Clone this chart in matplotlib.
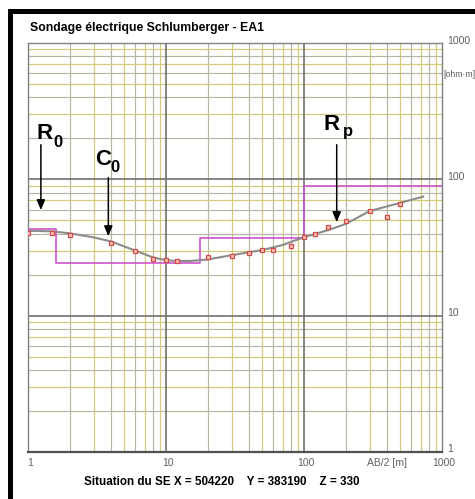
import matplotlib
matplotlib.use("Agg")
import matplotlib.pyplot as plt
from matplotlib.patches import Rectangle
from matplotlib import transforms

plt.rcParams["font.family"] = ["Liberation Sans", "DejaVu Sans"]

# Measured apparent resistivity (AB/2 [m], rho_a [ohm.m])
ab2 = [1, 1.5, 2, 4, 6, 8, 10, 12, 20, 30, 40, 50, 60, 80, 100, 120, 150, 200, 300, 400, 500]
rho_a = [40.2, 40.6, 39.1, 34.3, 30.0, 26.0, 25.7, 25.2, 27.1, 27.3, 29.0, 30.2, 30.3,
         32.6, 37.6, 40.0, 44.5, 49.3, 58.3, 53.2, 66.0]

# Computed response of the model (grey curve)
curve_x = [1, 1.5, 2, 3, 4, 6, 8, 10, 12, 15, 20, 30, 50, 70, 100, 150, 200, 300, 500, 730]
curve_y = [42, 41.5, 40.2, 37.5, 35, 30, 26.8, 25.5, 25.2, 25.2, 25.8, 27.8, 30.3, 33,
           37.6, 42.5, 47, 58.6, 67.3, 74.7]

# Layered model (magenta steps)
layer_x = [1, 1.6, 17.6, 100, 1000]
layer_rho = [43, 24.2, 37, 90, 90]

title = "Sondage électrique Schlumberger - EA1"
footer = "Situation du SE X = 504220    Y = 383190    Z = 330"
decades = [1, 10, 100, 1000]
dec_labels = ["1", "10", "100", "1000"]

fig = plt.figure(figsize=(4.75, 4.99), dpi=100)
ax = fig.add_axes([28 / 475, 47 / 499, 414 / 475, 409 / 499])
ax.set_xscale("log")
ax.set_yscale("log")
ax.set_xlim(1, 1000)
ax.set_ylim(1, 1000)

# grid: decades dark grey, minor lines alternating grey / olive yellow
for d in decades[:-1]:
    for m in range(2, 10):
        col = "#b8b4a4" if m % 2 == 0 else "#d2ca78"
        ax.axvline(d * m, color=col, lw=0.85, zorder=1)
        ax.axhline(d * m, color=col, lw=0.85, zorder=1)
for d in decades[1:-1]:
    ax.axvline(d, color="#707070", lw=1.2, zorder=1.5)
    ax.axhline(d, color="#707070", lw=1.2, zorder=1.5)

for s in ax.spines.values():
    s.set_color("#808080")
    s.set_linewidth(1.0)
ax.spines["bottom"].set_color("#505050")
ax.spines["bottom"].set_linewidth(1.6)

ax.set_xticks([])
ax.set_yticks([])
ax.minorticks_off()

ax.step(layer_x, layer_rho, where="post", color="#cc55cc", lw=1.2, zorder=3)
ax.plot(curve_x, curve_y, color="#8c8c8c", lw=1.5, zorder=4)
ax.plot(ab2, rho_a, ls="none", marker="s", ms=3.4, mew=0.9,
        mfc="#f5c8b8", mec="#d84848", zorder=5)

# annotations
arr = dict(arrowstyle="-|>,head_width=0.25,head_length=0.6", color="black", lw=1.1)
ax.annotate("", xy=(1.24, 56.7), xytext=(1.24, 188), arrowprops=arr, zorder=6)
ax.annotate("", xy=(3.82, 36.5), xytext=(3.82, 108), arrowprops=arr, zorder=6)
ax.annotate("", xy=(172.6, 46.3), xytext=(172.6, 188), arrowprops=arr, zorder=6)
big = dict(fontsize=16, va="baseline", ha="left", fontweight="bold")
sub = dict(fontsize=12, va="baseline", ha="left", fontweight="bold")
ax.text(1.16, 198, "R", **big)
ax.text(1.53, 173, "0", **sub)
ax.text(3.06, 127.6, "C", **big)
ax.text(3.98, 113.3, "0", **sub)
ax.text(139.6, 230, "R", **big)
ax.text(190, 208, "p", **sub)

# tick labels drawn as text
lab = dict(fontsize=7.5, color="#606060")
up = transforms.ScaledTranslation(0, 2.5 / 100, fig.dpi_scale_trans)
ytr = transforms.blended_transform_factory(ax.transAxes, ax.transData) + up
for v, t in zip(decades, dec_labels):
    ax.text(1.012, v, t, transform=ytr, ha="left", va="center", clip_on=False, **lab)
ax.text(1.004, 583, "[ohm·m]", transform=transforms.blended_transform_factory(ax.transAxes, ax.transData),
        ha="left", va="center", clip_on=False, fontsize=6.3, color="#606060")
xtr = transforms.blended_transform_factory(ax.transData, ax.transAxes)
for v, t in zip(decades, dec_labels):
    ax.text(v * 1.03, -0.026, t, transform=xtr, ha="center", va="center", clip_on=False, **lab)
ax.text(400, -0.026, "AB/2 [m]", transform=xtr, ha="center", va="center", clip_on=False, **lab)

fig.text(30 / 475, 1 - 28.5 / 499, title, fontsize=8.8, fontweight="bold", ha="left", va="center")
fig.text(222 / 475, 1 - 482 / 499, footer, fontsize=8.4, fontweight="bold", ha="center", va="center")

# black frame on left and top
fig.add_artist(Rectangle((8 / 475, 0), 5 / 475, 489 / 499, transform=fig.transFigure,
                         color="black", lw=0))
fig.add_artist(Rectangle((8 / 475, 485 / 499), 467 / 475, 5 / 499, transform=fig.transFigure,
                         color="black", lw=0))

fig.savefig("out.png", dpi=100)
